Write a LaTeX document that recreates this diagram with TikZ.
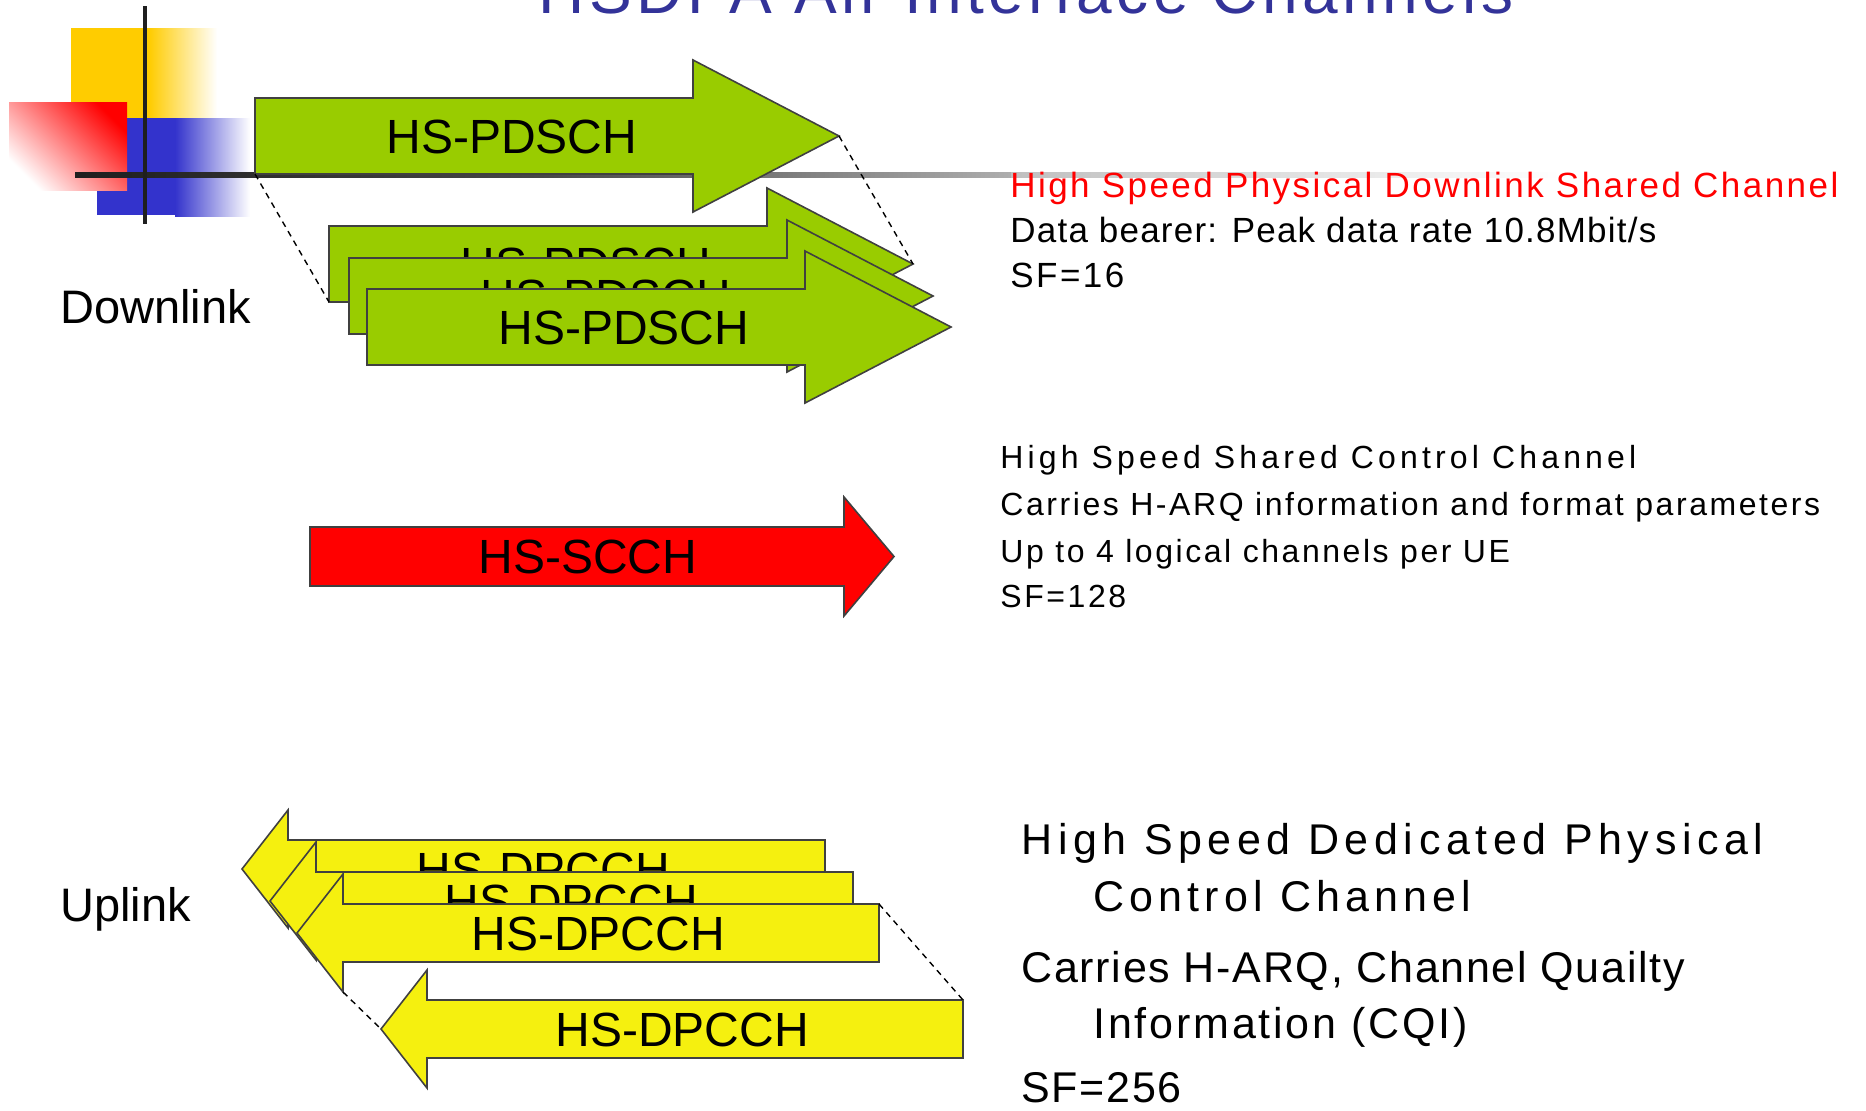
\documentclass[tikz,border=0pt]{standalone}
\usepackage{fontspec}
\setmainfont{Liberation Sans}
\definecolor{hsgreen}{HTML}{99CC00}
\definecolor{hsyellow}{HTML}{F5F00F}
\definecolor{hsred}{HTML}{FF0000}
\definecolor{titleblue}{HTML}{333399}
\definecolor{logoyellow}{HTML}{FFCC00}
\definecolor{logoblue}{HTML}{3333CC}
\newcommand\GreenArrow[4]{% name, left x, centre y, label
  \path[arrowline, fill=hsgreen] (#2,#3-38) -- (#2+438,#3-38) -- (#2+438,#3-76) -- (#2+584,#3)
     -- (#2+438,#3+76) -- (#2+438,#3+38) -- (#2,#3+38) -- cycle;
  \coordinate (#1-bl) at (#2,#3+38);
  \coordinate (#1-tip) at (#2+584,#3);
  \node[lbl] (#1-lbl) at (#2+131,#3+17) {#4};
}
\newcommand\YellowArrow[5]{% name, body left x, right x, centre y, label
  \path[arrowline, fill=hsyellow] (#2,#4-29) -- (#3,#4-29) -- (#3,#4+29) -- (#2,#4+29)
     -- (#2,#4+59) -- (#2-46,#4) -- (#2,#4-59) -- cycle;
  \coordinate (#1-tr) at (#3,#4-29);
  \coordinate (#1-hb) at (#2,#4+59);
  \coordinate (#1-tip) at (#2-46,#4);
  \node[lbl] (#1-lbl) at (#2+128,#4+17) {#5};
}
\begin{document}
\begin{tikzpicture}[x=0.5pt,y=-0.5pt,
  arrowline/.style={draw=black!75, line width=0.8pt, line join=miter},
  lbl/.style={anchor=base west, inner sep=0pt, font=\fontsize{24}{28}\selectfont},
  side/.style={anchor=base west, inner sep=0pt, font=\fontsize{23.5}{28}\selectfont},
  txtA/.style={anchor=base west, inner sep=0pt, font=\fontsize{17.5}{21}\selectfont\addfontfeature{LetterSpace=#1}},
  txtA/.default=7,
  txtB/.style={anchor=base west, inner sep=0pt, font=\fontsize{16}{20}\selectfont\addfontfeature{LetterSpace=#1}},
  txtB/.default=8,
  txtC/.style={anchor=base west, inner sep=0pt, font=\fontsize{21.5}{26}\selectfont\addfontfeature{LetterSpace=#1}},
  txtC/.default=6,
  guide/.style={draw=black, line width=0.7pt, dash pattern=on 3pt off 2.5pt}]
\useasboundingbox (0,0) rectangle (1866,1110);
\clip (0,0) rectangle (1866,1110);
\fill[white] (0,0) rectangle (1866,1110);
% title (cut off by the top edge)
\node[anchor=base, inner sep=0pt, text=titleblue,
      font=\fontsize{32}{36}\selectfont\addfontfeature{LetterSpace=7}] (title) at (1026,13) {HSDPA Air Interface Channels};
% logo
\fill[logoyellow] (71,28) rectangle (150,118);
\shade[left color=logoyellow, right color=white] (149,28) rectangle (217,118);
\fill[logoblue] (97,118) rectangle (176,215);
\shade[left color=logoblue, right color=white] (175,118) rectangle (250,216);
\shade[shading=axis, top color=hsred, bottom color=white, shading angle=-45] (9,102) rectangle (127,190);
% horizontal rule
\shade[left color=black!88, right color=black!32, middle color=black!72] (75,172.5) rectangle (1012,177.5);
\shade[left color=black!25, right color=white] (1011,172.5) rectangle (1560,177.5);
\fill[black!88] (143,6) rectangle (147,224);
% downlink arrows
\GreenArrow{big}{255}{136}{HS-PDSCH}
\GreenArrow{pa}{329}{264}{HS-PDSCH}
\GreenArrow{pb}{349}{296}{HS-PDSCH}
\GreenArrow{pc}{367}{327}{HS-PDSCH}
\draw[guide] (big-bl) -- (pa-bl);
\draw[guide] (big-tip) -- (pa-tip);
\node[side] (down) at (60,323) {Downlink};
% control channel arrow
\path[arrowline, fill=hsred] (310,527) -- (844,527) -- (844,497) -- (894,556.5) -- (844,616) -- (844,586) -- (310,586) -- cycle;
\node[lbl] (scch) at (478,573) {HS-SCCH};
% uplink arrows
\YellowArrow{ua}{288}{825}{869}{HS-DPCCH}
\YellowArrow{ub}{316}{853}{901}{HS-DPCCH}
\YellowArrow{uc}{343}{879}{933}{HS-DPCCH}
\YellowArrow{ud}{427}{963}{1029}{HS-DPCCH}
\draw[guide] (uc-tr) -- (ud-tr);
\draw[guide] (uc-hb) -- (ud-tip);
\node[side] (up) at (60,921) {Uplink};
% descriptions
\node[txtA, text=hsred] (d1) at (1010,197) {High Speed Physical Downlink Shared Channel};
\node[txtA=3.5] (d2) at (1010,242) {Data bearer: Peak data rate 10.8Mbit/s};
\node[txtA] (d3) at (1010,287) {SF=16};
\node[txtB=13] (c1) at (1000,468) {High Speed Shared Control Channel};
\node[txtB] (c2) at (1000,515) {Carries H-ARQ information and format parameters};
\node[txtB] (c3) at (1000,562) {Up to 4 logical channels per UE};
\node[txtB] (c4) at (1000,607) {SF=128};
\node[txtC=13] (e1) at (1021,854) {High Speed Dedicated Physical};
\node[txtC=12] (e2) at (1093,911) {Control Channel};
\node[txtC=4] (e3) at (1021,982) {Carries H-ARQ, Channel Quailty};
\node[txtC=6.5] (e4) at (1093,1038) {Information (CQI)};
\node[txtC=4] (e5) at (1021,1102) {SF=256};
\end{tikzpicture}
\end{document}
